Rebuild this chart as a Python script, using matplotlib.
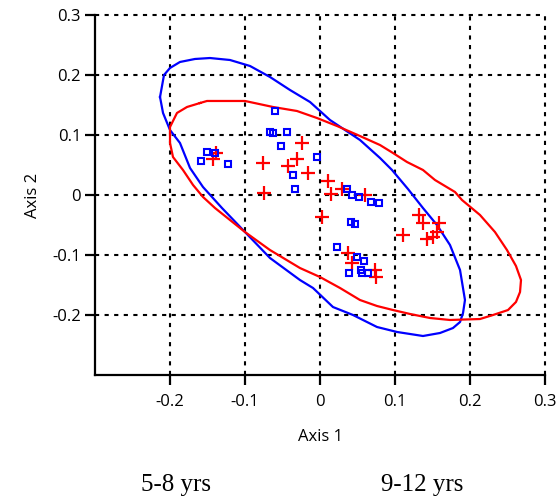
import matplotlib
matplotlib.use("Agg")
import matplotlib.pyplot as plt

plt.rcParams['font.family'] = ['Open Sans', 'DejaVu Sans']

# Group A (5-8 yrs) scores
young_x = [-0.1507, -0.140, -0.1587, -0.1227, -0.060, -0.0667, -0.0627, -0.044, -0.052,
           -0.004, -0.036, -0.0333, 0.036, 0.0427, 0.052, 0.068, 0.0787, 0.0413, 0.0467,
           0.0227, 0.0493, 0.0587, 0.0387, 0.0547, 0.056, 0.064]
young_y = [0.0717, 0.070, 0.0567, 0.0517, 0.140, 0.105, 0.1033, 0.105, 0.0817,
           0.0633, 0.0333, 0.010, 0.010, 0.000, -0.0033, -0.0117, -0.0133, -0.045, -0.0483,
           -0.0867, -0.1033, -0.110, -0.130, -0.125, -0.130, -0.130]

# Group B (9-12 yrs) scores
older_x = [-0.1427, -0.1387, -0.076, -0.0747, -0.024, -0.0307, -0.0427, -0.016, 0.0107,
           0.0147, 0.0293, 0.060, 0.0027, 0.132, 0.1373, 0.1587, 0.1107, 0.156, 0.1427,
           0.1507, 0.0373, 0.0427, 0.0733, 0.0747]
older_y = [0.060, 0.070, 0.0533, 0.0033, 0.0867, 0.060, 0.0483, 0.0367, 0.0233,
           0.0017, 0.010, 0.000, -0.0367, -0.0333, -0.0467, -0.0467, -0.0667, -0.0617, -0.0733,
           -0.070, -0.0967, -0.1133, -0.125, -0.1367]

# Outline of the 5-8 yrs group region
young_env_x = [-0.2133, -0.208, -0.200, -0.1867, -0.1667, -0.1467, -0.120, -0.0933, -0.0667,
               -0.040, -0.0133, 0.0133, 0.0533, 0.080, 0.096, 0.1173, 0.1373, 0.156, 0.1733,
               0.1867, 0.1933, 0.1907, 0.1867, 0.1773, 0.160, 0.1373, 0.1027, 0.076, 0.044,
               0.0173, -0.0093, -0.0267, -0.0667, -0.100, -0.1307, -0.156, -0.1733, -0.1867,
               -0.200, -0.2093, -0.2133]
young_env_y = [0.1633, 0.200, 0.2117, 0.2217, 0.2267, 0.2283, 0.225, 0.215, 0.1967,
               0.175, 0.155, 0.125, 0.0917, 0.0617, 0.0417, 0.010, -0.0217, -0.050, -0.0833,
               -0.125, -0.175, -0.1967, -0.2117, -0.2217, -0.230, -0.235, -0.2283, -0.220, -0.200,
               -0.1867, -0.155, -0.1417, -0.105, -0.0617, -0.0217, 0.0133, 0.045, 0.0867,
               0.1083, 0.1367, 0.1633]

# Outline of the 9-12 yrs group region
older_env_x = [-0.160, -0.1507, -0.100, -0.0627, -0.0307, -0.004, 0.0227, 0.0533, 0.080,
               0.0973, 0.116, 0.1373, 0.1533, 0.180, 0.1893, 0.2133, 0.2333, 0.2493, 0.2613,
               0.268, 0.2667, 0.2613, 0.2507, 0.2307, 0.2133, 0.1733, 0.1467, 0.120, 0.0973,
               0.076, 0.0533, 0.0267, 0.000, -0.0267, -0.0667, -0.100, -0.140, -0.156, -0.1693,
               -0.1827, -0.196, -0.200, -0.200, -0.1907, -0.1773, -0.160]
older_env_y = [0.1533, 0.1567, 0.1567, 0.1467, 0.140, 0.1283, 0.115, 0.0983, 0.0833,
               0.070, 0.055, 0.0417, 0.025, 0.005, -0.0083, -0.0333, -0.0617, -0.0917, -0.1183,
               -0.1417, -0.1617, -0.1783, -0.1917, -0.200, -0.2067, -0.2083, -0.205, -0.1983, -0.1917,
               -0.185, -0.175, -0.155, -0.1367, -0.1217, -0.0917, -0.0617, -0.0217, -0.0033, 0.0167,
               0.0417, 0.0633, 0.0867, 0.1133, 0.1367, 0.1467, 0.1533]

x_ticks = [-0.2, -0.1, 0, 0.1, 0.2, 0.3]
y_ticks = [-0.2, -0.1, 0, 0.1, 0.2, 0.3]
x_tick_labels = ['-0.2', '-0.1', '0', '0.1', '0.2', '0.3']
y_tick_labels = ['-0.2', '-0.1', '0', '0.1', '0.2', '0.3']
group_labels = ['5-8 yrs', '9-12 yrs']

fig = plt.figure(figsize=(5.58, 5.04), dpi=100)
ax = fig.add_axes([95 / 558, 1 - 375 / 504, 450 / 558, 360 / 504])
ax.set_xlim(-0.3, 0.3)
ax.set_ylim(-0.3, 0.3)

# dotted reference grid, including the outer 0.3 lines
for v in x_ticks:
    ax.axvline(v, color='black', lw=1.5, ls=(0, (2, 2.6)), clip_on=False, zorder=1)
for v in y_ticks:
    ax.axhline(v, color='black', lw=1.5, ls=(0, (2, 2.6)), clip_on=False, zorder=1)

ax.plot(young_env_x, young_env_y, color='#0000ff', lw=1.6, zorder=2)
ax.plot(older_env_x, older_env_y, color='#ff0000', lw=1.6, zorder=2)

ax.plot(older_x, older_y, ls='none', marker='+', ms=9.5, mew=1.6, color='#ff0000', zorder=3)
ax.plot(young_x, young_y, ls='none', marker='s', ms=5, mew=1.5, mfc='none',
        mec='#0000ff', zorder=4)

for s in ['top', 'right']:
    ax.spines[s].set_visible(False)
for s in ['left', 'bottom']:
    ax.spines[s].set_linewidth(1.6)

ax.set_xticks(x_ticks)
ax.set_xticklabels(x_tick_labels)
ax.set_yticks(y_ticks)
ax.set_yticklabels(y_tick_labels)
ax.tick_params(direction='out', length=7.5, width=1.6, labelsize=12)
ax.tick_params(axis='x', pad=6)
ax.tick_params(axis='y', pad=2.5)

ax.set_xlabel('Axis 1', fontsize=12, labelpad=14)
ax.set_ylabel('Axis 2', fontsize=12, labelpad=8)

fig.text(176 / 558, 1 - 485 / 504, group_labels[0], family='Liberation Serif',
         fontsize=18, ha='center', va='center')
fig.text(422 / 558, 1 - 485 / 504, group_labels[1], family='Liberation Serif',
         fontsize=18, ha='center', va='center')

fig.savefig('out.png', dpi=100)
